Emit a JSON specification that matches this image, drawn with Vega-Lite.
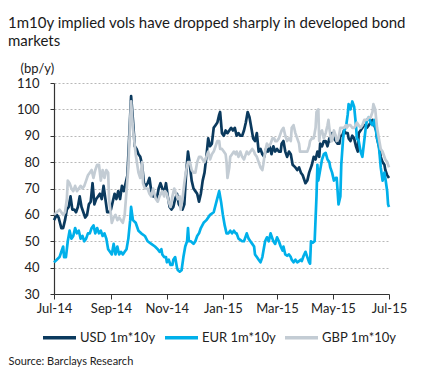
{
"$schema": "https://vega.github.io/schema/vega-lite/v6.json",
"width": 335,
"height": 211,
"autosize": {"type": "none"},
"padding": {"left": 54, "top": 83, "right": 50, "bottom": 82},
"background": "white",
"config": {"view": {"stroke": null}, "font": "Lato"},
"title": {"text": ["1m10y implied vols have dropped sharply in developed bond", "markets"], "anchor": "start", "frame": "group", "dx": -46, "offset": 13, "font": "Lato", "fontSize": 15, "fontWeight": "normal", "color": "#1a1a1a", "lineHeight": 18},
"data": {"values": [
{"date":"2014-07-01","cur":"USD","vol":58},{"date":"2014-07-04","cur":"USD","vol":60},{"date":"2014-07-06","cur":"USD","vol":59},{"date":"2014-07-09","cur":"USD","vol":55},{"date":"2014-07-11","cur":"USD","vol":55},{"date":"2014-07-13","cur":"USD","vol":58},{"date":"2014-07-15","cur":"USD","vol":62},{"date":"2014-07-17","cur":"USD","vol":63},{"date":"2014-07-19","cur":"USD","vol":67},{"date":"2014-07-21","cur":"USD","vol":62},{"date":"2014-07-23","cur":"USD","vol":62},{"date":"2014-07-25","cur":"USD","vol":61},{"date":"2014-07-27","cur":"USD","vol":63},{"date":"2014-07-29","cur":"USD","vol":67},{"date":"2014-07-31","cur":"USD","vol":63},{"date":"2014-08-02","cur":"USD","vol":61},{"date":"2014-08-04","cur":"USD","vol":59},{"date":"2014-08-06","cur":"USD","vol":60},{"date":"2014-08-08","cur":"USD","vol":64},{"date":"2014-08-10","cur":"USD","vol":65},{"date":"2014-08-12","cur":"USD","vol":72},{"date":"2014-08-14","cur":"USD","vol":64},{"date":"2014-08-16","cur":"USD","vol":66},{"date":"2014-08-18","cur":"USD","vol":67},{"date":"2014-08-20","cur":"USD","vol":68},{"date":"2014-08-22","cur":"USD","vol":66},{"date":"2014-08-24","cur":"USD","vol":71},{"date":"2014-08-26","cur":"USD","vol":66},{"date":"2014-08-28","cur":"USD","vol":61},{"date":"2014-08-30","cur":"USD","vol":61},{"date":"2014-09-01","cur":"USD","vol":62},{"date":"2014-09-03","cur":"USD","vol":65},{"date":"2014-09-05","cur":"USD","vol":68},{"date":"2014-09-07","cur":"USD","vol":66},{"date":"2014-09-09","cur":"USD","vol":69},{"date":"2014-09-11","cur":"USD","vol":66},{"date":"2014-09-13","cur":"USD","vol":71},{"date":"2014-09-15","cur":"USD","vol":69},{"date":"2014-09-17","cur":"USD","vol":72},{"date":"2014-09-19","cur":"USD","vol":75},{"date":"2014-09-21","cur":"USD","vol":90},{"date":"2014-09-23","cur":"USD","vol":105},{"date":"2014-09-25","cur":"USD","vol":96},{"date":"2014-09-27","cur":"USD","vol":86},{"date":"2014-09-29","cur":"USD","vol":85},{"date":"2014-10-01","cur":"USD","vol":83},{"date":"2014-10-03","cur":"USD","vol":82},{"date":"2014-10-05","cur":"USD","vol":79},{"date":"2014-10-07","cur":"USD","vol":72},{"date":"2014-10-09","cur":"USD","vol":71},{"date":"2014-10-11","cur":"USD","vol":72},{"date":"2014-10-13","cur":"USD","vol":74},{"date":"2014-10-15","cur":"USD","vol":69},{"date":"2014-10-17","cur":"USD","vol":67},{"date":"2014-10-19","cur":"USD","vol":67},{"date":"2014-10-21","cur":"USD","vol":66},{"date":"2014-10-23","cur":"USD","vol":70},{"date":"2014-10-25","cur":"USD","vol":72},{"date":"2014-10-27","cur":"USD","vol":70},{"date":"2014-10-29","cur":"USD","vol":68},{"date":"2014-10-31","cur":"USD","vol":72},{"date":"2014-11-02","cur":"USD","vol":67},{"date":"2014-11-04","cur":"USD","vol":63},{"date":"2014-11-06","cur":"USD","vol":62},{"date":"2014-11-08","cur":"USD","vol":63},{"date":"2014-11-10","cur":"USD","vol":66},{"date":"2014-11-12","cur":"USD","vol":68},{"date":"2014-11-14","cur":"USD","vol":64},{"date":"2014-11-16","cur":"USD","vol":63},{"date":"2014-11-18","cur":"USD","vol":62},{"date":"2014-11-20","cur":"USD","vol":64},{"date":"2014-11-22","cur":"USD","vol":76},{"date":"2014-11-24","cur":"USD","vol":84},{"date":"2014-11-26","cur":"USD","vol":79},{"date":"2014-11-28","cur":"USD","vol":73},{"date":"2014-11-30","cur":"USD","vol":70},{"date":"2014-12-02","cur":"USD","vol":69},{"date":"2014-12-04","cur":"USD","vol":68},{"date":"2014-12-06","cur":"USD","vol":65},{"date":"2014-12-08","cur":"USD","vol":68},{"date":"2014-12-10","cur":"USD","vol":73},{"date":"2014-12-12","cur":"USD","vol":76},{"date":"2014-12-14","cur":"USD","vol":82},{"date":"2014-12-16","cur":"USD","vol":89},{"date":"2014-12-18","cur":"USD","vol":86},{"date":"2014-12-20","cur":"USD","vol":87},{"date":"2014-12-22","cur":"USD","vol":93},{"date":"2014-12-24","cur":"USD","vol":94},{"date":"2014-12-26","cur":"USD","vol":95},{"date":"2014-12-28","cur":"USD","vol":98},{"date":"2014-12-29","cur":"USD","vol":99},{"date":"2014-12-31","cur":"USD","vol":91},{"date":"2015-01-02","cur":"USD","vol":90},{"date":"2015-01-04","cur":"USD","vol":92},{"date":"2015-01-06","cur":"USD","vol":91},{"date":"2015-01-08","cur":"USD","vol":92},{"date":"2015-01-10","cur":"USD","vol":93},{"date":"2015-01-12","cur":"USD","vol":92},{"date":"2015-01-14","cur":"USD","vol":93},{"date":"2015-01-16","cur":"USD","vol":90},{"date":"2015-01-18","cur":"USD","vol":91},{"date":"2015-01-20","cur":"USD","vol":90},{"date":"2015-01-22","cur":"USD","vol":90},{"date":"2015-01-24","cur":"USD","vol":92},{"date":"2015-01-26","cur":"USD","vol":95},{"date":"2015-01-28","cur":"USD","vol":99},{"date":"2015-01-30","cur":"USD","vol":97},{"date":"2015-02-01","cur":"USD","vol":93},{"date":"2015-02-03","cur":"USD","vol":89},{"date":"2015-02-05","cur":"USD","vol":88},{"date":"2015-02-07","cur":"USD","vol":91},{"date":"2015-02-09","cur":"USD","vol":84},{"date":"2015-02-11","cur":"USD","vol":85},{"date":"2015-02-13","cur":"USD","vol":83},{"date":"2015-02-15","cur":"USD","vol":82},{"date":"2015-02-17","cur":"USD","vol":85},{"date":"2015-02-19","cur":"USD","vol":84},{"date":"2015-02-21","cur":"USD","vol":86},{"date":"2015-02-23","cur":"USD","vol":83},{"date":"2015-02-25","cur":"USD","vol":86},{"date":"2015-02-27","cur":"USD","vol":84},{"date":"2015-03-01","cur":"USD","vol":85},{"date":"2015-03-03","cur":"USD","vol":84},{"date":"2015-03-05","cur":"USD","vol":84},{"date":"2015-03-06","cur":"USD","vol":87},{"date":"2015-03-08","cur":"USD","vol":88},{"date":"2015-03-10","cur":"USD","vol":84},{"date":"2015-03-12","cur":"USD","vol":82},{"date":"2015-03-14","cur":"USD","vol":84},{"date":"2015-03-16","cur":"USD","vol":83},{"date":"2015-03-18","cur":"USD","vol":79},{"date":"2015-03-21","cur":"USD","vol":78},{"date":"2015-03-23","cur":"USD","vol":77},{"date":"2015-03-25","cur":"USD","vol":78},{"date":"2015-03-27","cur":"USD","vol":76},{"date":"2015-03-29","cur":"USD","vol":75},{"date":"2015-03-30","cur":"USD","vol":74},{"date":"2015-04-01","cur":"USD","vol":72},{"date":"2015-04-03","cur":"USD","vol":73},{"date":"2015-04-05","cur":"USD","vol":76},{"date":"2015-04-07","cur":"USD","vol":78},{"date":"2015-04-08","cur":"USD","vol":79},{"date":"2015-04-10","cur":"USD","vol":82},{"date":"2015-04-12","cur":"USD","vol":81},{"date":"2015-04-14","cur":"USD","vol":84},{"date":"2015-04-16","cur":"USD","vol":82},{"date":"2015-04-17","cur":"USD","vol":87},{"date":"2015-04-19","cur":"USD","vol":86},{"date":"2015-04-21","cur":"USD","vol":88},{"date":"2015-04-23","cur":"USD","vol":88},{"date":"2015-04-25","cur":"USD","vol":86},{"date":"2015-04-27","cur":"USD","vol":89},{"date":"2015-04-28","cur":"USD","vol":88},{"date":"2015-04-30","cur":"USD","vol":91},{"date":"2015-05-02","cur":"USD","vol":89},{"date":"2015-05-04","cur":"USD","vol":88},{"date":"2015-05-06","cur":"USD","vol":87},{"date":"2015-05-08","cur":"USD","vol":87},{"date":"2015-05-09","cur":"USD","vol":90},{"date":"2015-05-11","cur":"USD","vol":90},{"date":"2015-05-13","cur":"USD","vol":92},{"date":"2015-05-15","cur":"USD","vol":91},{"date":"2015-05-17","cur":"USD","vol":91},{"date":"2015-05-18","cur":"USD","vol":89},{"date":"2015-05-20","cur":"USD","vol":88},{"date":"2015-05-22","cur":"USD","vol":90},{"date":"2015-05-24","cur":"USD","vol":89},{"date":"2015-05-26","cur":"USD","vol":86},{"date":"2015-05-28","cur":"USD","vol":84},{"date":"2015-05-29","cur":"USD","vol":91},{"date":"2015-05-31","cur":"USD","vol":92},{"date":"2015-06-02","cur":"USD","vol":93},{"date":"2015-06-04","cur":"USD","vol":94},{"date":"2015-06-06","cur":"USD","vol":94},{"date":"2015-06-07","cur":"USD","vol":93},{"date":"2015-06-09","cur":"USD","vol":94},{"date":"2015-06-11","cur":"USD","vol":95},{"date":"2015-06-13","cur":"USD","vol":96},{"date":"2015-06-15","cur":"USD","vol":94},{"date":"2015-06-17","cur":"USD","vol":92},{"date":"2015-06-18","cur":"USD","vol":89},{"date":"2015-06-20","cur":"USD","vol":86},{"date":"2015-06-22","cur":"USD","vol":82},{"date":"2015-06-24","cur":"USD","vol":80},{"date":"2015-06-26","cur":"USD","vol":79},{"date":"2015-06-27","cur":"USD","vol":77},{"date":"2015-06-29","cur":"USD","vol":75},{"date":"2015-07-01","cur":"USD","vol":74},
{"date":"2014-07-01","cur":"EUR","vol":42},{"date":"2014-07-04","cur":"EUR","vol":43},{"date":"2014-07-07","cur":"EUR","vol":44},{"date":"2014-07-09","cur":"EUR","vol":46},{"date":"2014-07-11","cur":"EUR","vol":48},{"date":"2014-07-12","cur":"EUR","vol":44},{"date":"2014-07-14","cur":"EUR","vol":44},{"date":"2014-07-16","cur":"EUR","vol":50},{"date":"2014-07-18","cur":"EUR","vol":54},{"date":"2014-07-20","cur":"EUR","vol":51},{"date":"2014-07-22","cur":"EUR","vol":52},{"date":"2014-07-24","cur":"EUR","vol":55},{"date":"2014-07-26","cur":"EUR","vol":53},{"date":"2014-07-28","cur":"EUR","vol":54},{"date":"2014-07-30","cur":"EUR","vol":51},{"date":"2014-08-01","cur":"EUR","vol":52},{"date":"2014-08-03","cur":"EUR","vol":50},{"date":"2014-08-05","cur":"EUR","vol":51},{"date":"2014-08-07","cur":"EUR","vol":53},{"date":"2014-08-09","cur":"EUR","vol":53},{"date":"2014-08-11","cur":"EUR","vol":55},{"date":"2014-08-13","cur":"EUR","vol":56},{"date":"2014-08-15","cur":"EUR","vol":53},{"date":"2014-08-17","cur":"EUR","vol":55},{"date":"2014-08-19","cur":"EUR","vol":53},{"date":"2014-08-21","cur":"EUR","vol":54},{"date":"2014-08-23","cur":"EUR","vol":52},{"date":"2014-08-25","cur":"EUR","vol":53},{"date":"2014-08-27","cur":"EUR","vol":51},{"date":"2014-08-29","cur":"EUR","vol":47},{"date":"2014-08-31","cur":"EUR","vol":46},{"date":"2014-09-02","cur":"EUR","vol":45},{"date":"2014-09-04","cur":"EUR","vol":49},{"date":"2014-09-06","cur":"EUR","vol":45},{"date":"2014-09-08","cur":"EUR","vol":48},{"date":"2014-09-10","cur":"EUR","vol":45},{"date":"2014-09-12","cur":"EUR","vol":46},{"date":"2014-09-14","cur":"EUR","vol":45},{"date":"2014-09-16","cur":"EUR","vol":46},{"date":"2014-09-18","cur":"EUR","vol":47},{"date":"2014-09-20","cur":"EUR","vol":51},{"date":"2014-09-22","cur":"EUR","vol":58},{"date":"2014-09-23","cur":"EUR","vol":63},{"date":"2014-09-25","cur":"EUR","vol":58},{"date":"2014-09-28","cur":"EUR","vol":57},{"date":"2014-10-01","cur":"EUR","vol":54},{"date":"2014-10-04","cur":"EUR","vol":53},{"date":"2014-10-08","cur":"EUR","vol":52},{"date":"2014-10-11","cur":"EUR","vol":50},{"date":"2014-10-15","cur":"EUR","vol":49},{"date":"2014-10-19","cur":"EUR","vol":48},{"date":"2014-10-22","cur":"EUR","vol":47},{"date":"2014-10-24","cur":"EUR","vol":46},{"date":"2014-10-26","cur":"EUR","vol":47},{"date":"2014-10-27","cur":"EUR","vol":45},{"date":"2014-10-29","cur":"EUR","vol":44},{"date":"2014-10-31","cur":"EUR","vol":44},{"date":"2014-11-01","cur":"EUR","vol":42},{"date":"2014-11-03","cur":"EUR","vol":43},{"date":"2014-11-05","cur":"EUR","vol":41},{"date":"2014-11-07","cur":"EUR","vol":41},{"date":"2014-11-08","cur":"EUR","vol":43},{"date":"2014-11-10","cur":"EUR","vol":44},{"date":"2014-11-12","cur":"EUR","vol":40},{"date":"2014-11-13","cur":"EUR","vol":39},{"date":"2014-11-15","cur":"EUR","vol":38.5},{"date":"2014-11-17","cur":"EUR","vol":39},{"date":"2014-11-19","cur":"EUR","vol":44},{"date":"2014-11-21","cur":"EUR","vol":48},{"date":"2014-11-23","cur":"EUR","vol":50},{"date":"2014-11-24","cur":"EUR","vol":55},{"date":"2014-11-25","cur":"EUR","vol":50},{"date":"2014-11-27","cur":"EUR","vol":50},{"date":"2014-11-30","cur":"EUR","vol":49},{"date":"2014-12-02","cur":"EUR","vol":50},{"date":"2014-12-04","cur":"EUR","vol":52},{"date":"2014-12-06","cur":"EUR","vol":53},{"date":"2014-12-08","cur":"EUR","vol":55},{"date":"2014-12-11","cur":"EUR","vol":57},{"date":"2014-12-14","cur":"EUR","vol":58},{"date":"2014-12-18","cur":"EUR","vol":60},{"date":"2014-12-22","cur":"EUR","vol":61},{"date":"2014-12-25","cur":"EUR","vol":65},{"date":"2014-12-28","cur":"EUR","vol":69},{"date":"2014-12-30","cur":"EUR","vol":65},{"date":"2015-01-01","cur":"EUR","vol":60},{"date":"2015-01-03","cur":"EUR","vol":56},{"date":"2015-01-05","cur":"EUR","vol":53},{"date":"2015-01-07","cur":"EUR","vol":53},{"date":"2015-01-09","cur":"EUR","vol":54},{"date":"2015-01-11","cur":"EUR","vol":53},{"date":"2015-01-13","cur":"EUR","vol":54},{"date":"2015-01-15","cur":"EUR","vol":53},{"date":"2015-01-16","cur":"EUR","vol":53},{"date":"2015-01-18","cur":"EUR","vol":51},{"date":"2015-01-20","cur":"EUR","vol":50.5},{"date":"2015-01-22","cur":"EUR","vol":50},{"date":"2015-01-24","cur":"EUR","vol":50},{"date":"2015-01-25","cur":"EUR","vol":51},{"date":"2015-01-27","cur":"EUR","vol":53},{"date":"2015-01-29","cur":"EUR","vol":51},{"date":"2015-01-31","cur":"EUR","vol":50},{"date":"2015-02-02","cur":"EUR","vol":49},{"date":"2015-02-04","cur":"EUR","vol":48},{"date":"2015-02-05","cur":"EUR","vol":45},{"date":"2015-02-07","cur":"EUR","vol":44},{"date":"2015-02-09","cur":"EUR","vol":43},{"date":"2015-02-11","cur":"EUR","vol":42},{"date":"2015-02-13","cur":"EUR","vol":44},{"date":"2015-02-14","cur":"EUR","vol":46},{"date":"2015-02-16","cur":"EUR","vol":50},{"date":"2015-02-18","cur":"EUR","vol":51.5},{"date":"2015-02-20","cur":"EUR","vol":50},{"date":"2015-02-22","cur":"EUR","vol":53},{"date":"2015-02-24","cur":"EUR","vol":51},{"date":"2015-02-25","cur":"EUR","vol":50},{"date":"2015-02-27","cur":"EUR","vol":49},{"date":"2015-03-01","cur":"EUR","vol":51.5},{"date":"2015-03-03","cur":"EUR","vol":50},{"date":"2015-03-05","cur":"EUR","vol":48},{"date":"2015-03-07","cur":"EUR","vol":46.5},{"date":"2015-03-08","cur":"EUR","vol":48},{"date":"2015-03-10","cur":"EUR","vol":45},{"date":"2015-03-12","cur":"EUR","vol":44.5},{"date":"2015-03-14","cur":"EUR","vol":45},{"date":"2015-03-16","cur":"EUR","vol":44},{"date":"2015-03-17","cur":"EUR","vol":43},{"date":"2015-03-19","cur":"EUR","vol":42},{"date":"2015-03-21","cur":"EUR","vol":43},{"date":"2015-03-23","cur":"EUR","vol":42},{"date":"2015-03-25","cur":"EUR","vol":42.5},{"date":"2015-03-27","cur":"EUR","vol":43},{"date":"2015-03-28","cur":"EUR","vol":42.5},{"date":"2015-03-30","cur":"EUR","vol":44.5},{"date":"2015-04-01","cur":"EUR","vol":46},{"date":"2015-04-03","cur":"EUR","vol":44},{"date":"2015-04-05","cur":"EUR","vol":42},{"date":"2015-04-06","cur":"EUR","vol":41.5},{"date":"2015-04-07","cur":"EUR","vol":50},{"date":"2015-04-09","cur":"EUR","vol":49.5},{"date":"2015-04-11","cur":"EUR","vol":50},{"date":"2015-04-13","cur":"EUR","vol":67},{"date":"2015-04-14","cur":"EUR","vol":79},{"date":"2015-04-15","cur":"EUR","vol":73},{"date":"2015-04-17","cur":"EUR","vol":77},{"date":"2015-04-19","cur":"EUR","vol":81},{"date":"2015-04-21","cur":"EUR","vol":83},{"date":"2015-04-23","cur":"EUR","vol":83.5},{"date":"2015-04-25","cur":"EUR","vol":81},{"date":"2015-04-27","cur":"EUR","vol":80},{"date":"2015-04-28","cur":"EUR","vol":78},{"date":"2015-04-30","cur":"EUR","vol":76},{"date":"2015-05-02","cur":"EUR","vol":73},{"date":"2015-05-04","cur":"EUR","vol":74},{"date":"2015-05-05","cur":"EUR","vol":74},{"date":"2015-05-07","cur":"EUR","vol":64},{"date":"2015-05-09","cur":"EUR","vol":67},{"date":"2015-05-10","cur":"EUR","vol":79},{"date":"2015-05-12","cur":"EUR","vol":89},{"date":"2015-05-13","cur":"EUR","vol":92},{"date":"2015-05-15","cur":"EUR","vol":93},{"date":"2015-05-17","cur":"EUR","vol":98},{"date":"2015-05-18","cur":"EUR","vol":102},{"date":"2015-05-20","cur":"EUR","vol":100},{"date":"2015-05-22","cur":"EUR","vol":103},{"date":"2015-05-24","cur":"EUR","vol":101},{"date":"2015-05-26","cur":"EUR","vol":94},{"date":"2015-05-27","cur":"EUR","vol":89},{"date":"2015-05-29","cur":"EUR","vol":88},{"date":"2015-05-31","cur":"EUR","vol":84},{"date":"2015-06-02","cur":"EUR","vol":82},{"date":"2015-06-04","cur":"EUR","vol":88},{"date":"2015-06-06","cur":"EUR","vol":94},{"date":"2015-06-07","cur":"EUR","vol":96},{"date":"2015-06-09","cur":"EUR","vol":97},{"date":"2015-06-11","cur":"EUR","vol":95},{"date":"2015-06-13","cur":"EUR","vol":94},{"date":"2015-06-15","cur":"EUR","vol":96},{"date":"2015-06-16","cur":"EUR","vol":94},{"date":"2015-06-18","cur":"EUR","vol":89},{"date":"2015-06-20","cur":"EUR","vol":86},{"date":"2015-06-22","cur":"EUR","vol":78},{"date":"2015-06-24","cur":"EUR","vol":73},{"date":"2015-06-26","cur":"EUR","vol":76},{"date":"2015-06-27","cur":"EUR","vol":74},{"date":"2015-06-29","cur":"EUR","vol":69},{"date":"2015-06-30","cur":"EUR","vol":64},{"date":"2015-07-01","cur":"EUR","vol":63},
{"date":"2014-07-01","cur":"GBP","vol":60},{"date":"2014-07-04","cur":"GBP","vol":61},{"date":"2014-07-07","cur":"GBP","vol":62},{"date":"2014-07-09","cur":"GBP","vol":61},{"date":"2014-07-11","cur":"GBP","vol":60},{"date":"2014-07-13","cur":"GBP","vol":61},{"date":"2014-07-15","cur":"GBP","vol":66},{"date":"2014-07-16","cur":"GBP","vol":73},{"date":"2014-07-18","cur":"GBP","vol":72},{"date":"2014-07-20","cur":"GBP","vol":70},{"date":"2014-07-22","cur":"GBP","vol":69},{"date":"2014-07-24","cur":"GBP","vol":71},{"date":"2014-07-26","cur":"GBP","vol":69},{"date":"2014-07-28","cur":"GBP","vol":70},{"date":"2014-07-30","cur":"GBP","vol":71},{"date":"2014-08-01","cur":"GBP","vol":70},{"date":"2014-08-03","cur":"GBP","vol":71},{"date":"2014-08-05","cur":"GBP","vol":73},{"date":"2014-08-07","cur":"GBP","vol":75},{"date":"2014-08-09","cur":"GBP","vol":76},{"date":"2014-08-11","cur":"GBP","vol":77},{"date":"2014-08-13","cur":"GBP","vol":74},{"date":"2014-08-15","cur":"GBP","vol":77},{"date":"2014-08-17","cur":"GBP","vol":79},{"date":"2014-08-19","cur":"GBP","vol":79},{"date":"2014-08-21","cur":"GBP","vol":73},{"date":"2014-08-23","cur":"GBP","vol":77},{"date":"2014-08-25","cur":"GBP","vol":74},{"date":"2014-08-27","cur":"GBP","vol":77},{"date":"2014-08-29","cur":"GBP","vol":76},{"date":"2014-08-30","cur":"GBP","vol":66},{"date":"2014-09-01","cur":"GBP","vol":60},{"date":"2014-09-02","cur":"GBP","vol":57},{"date":"2014-09-04","cur":"GBP","vol":59},{"date":"2014-09-06","cur":"GBP","vol":60},{"date":"2014-09-08","cur":"GBP","vol":58},{"date":"2014-09-10","cur":"GBP","vol":59},{"date":"2014-09-12","cur":"GBP","vol":58},{"date":"2014-09-14","cur":"GBP","vol":57},{"date":"2014-09-16","cur":"GBP","vol":60},{"date":"2014-09-18","cur":"GBP","vol":69},{"date":"2014-09-20","cur":"GBP","vol":78},{"date":"2014-09-22","cur":"GBP","vol":96},{"date":"2014-09-23","cur":"GBP","vol":103},{"date":"2014-09-25","cur":"GBP","vol":93},{"date":"2014-09-28","cur":"GBP","vol":83},{"date":"2014-10-01","cur":"GBP","vol":76},{"date":"2014-10-03","cur":"GBP","vol":74},{"date":"2014-10-05","cur":"GBP","vol":80},{"date":"2014-10-06","cur":"GBP","vol":72},{"date":"2014-10-08","cur":"GBP","vol":70},{"date":"2014-10-11","cur":"GBP","vol":70},{"date":"2014-10-13","cur":"GBP","vol":68},{"date":"2014-10-15","cur":"GBP","vol":67},{"date":"2014-10-17","cur":"GBP","vol":70},{"date":"2014-10-20","cur":"GBP","vol":66},{"date":"2014-10-22","cur":"GBP","vol":65},{"date":"2014-10-24","cur":"GBP","vol":67},{"date":"2014-10-27","cur":"GBP","vol":69},{"date":"2014-10-29","cur":"GBP","vol":67},{"date":"2014-10-30","cur":"GBP","vol":69},{"date":"2014-11-01","cur":"GBP","vol":68},{"date":"2014-11-03","cur":"GBP","vol":65},{"date":"2014-11-05","cur":"GBP","vol":63},{"date":"2014-11-07","cur":"GBP","vol":67},{"date":"2014-11-09","cur":"GBP","vol":70},{"date":"2014-11-11","cur":"GBP","vol":68},{"date":"2014-11-13","cur":"GBP","vol":66},{"date":"2014-11-15","cur":"GBP","vol":67},{"date":"2014-11-16","cur":"GBP","vol":62},{"date":"2014-11-18","cur":"GBP","vol":66},{"date":"2014-11-20","cur":"GBP","vol":72},{"date":"2014-11-22","cur":"GBP","vol":77},{"date":"2014-11-24","cur":"GBP","vol":80},{"date":"2014-11-26","cur":"GBP","vol":80},{"date":"2014-11-28","cur":"GBP","vol":77},{"date":"2014-11-30","cur":"GBP","vol":76},{"date":"2014-12-02","cur":"GBP","vol":76},{"date":"2014-12-04","cur":"GBP","vol":80},{"date":"2014-12-06","cur":"GBP","vol":82},{"date":"2014-12-08","cur":"GBP","vol":82},{"date":"2014-12-10","cur":"GBP","vol":81},{"date":"2014-12-12","cur":"GBP","vol":80},{"date":"2014-12-14","cur":"GBP","vol":82},{"date":"2014-12-16","cur":"GBP","vol":84},{"date":"2014-12-18","cur":"GBP","vol":81},{"date":"2014-12-20","cur":"GBP","vol":83},{"date":"2014-12-22","cur":"GBP","vol":84},{"date":"2014-12-24","cur":"GBP","vol":86},{"date":"2014-12-26","cur":"GBP","vol":88},{"date":"2014-12-28","cur":"GBP","vol":88},{"date":"2014-12-29","cur":"GBP","vol":85},{"date":"2014-12-31","cur":"GBP","vol":85},{"date":"2015-01-02","cur":"GBP","vol":84},{"date":"2015-01-04","cur":"GBP","vol":83},{"date":"2015-01-05","cur":"GBP","vol":80},{"date":"2015-01-06","cur":"GBP","vol":74},{"date":"2015-01-08","cur":"GBP","vol":78},{"date":"2015-01-09","cur":"GBP","vol":82},{"date":"2015-01-11","cur":"GBP","vol":83},{"date":"2015-01-13","cur":"GBP","vol":84},{"date":"2015-01-15","cur":"GBP","vol":83},{"date":"2015-01-16","cur":"GBP","vol":84},{"date":"2015-01-18","cur":"GBP","vol":82},{"date":"2015-01-20","cur":"GBP","vol":84},{"date":"2015-01-22","cur":"GBP","vol":82},{"date":"2015-01-24","cur":"GBP","vol":81},{"date":"2015-01-25","cur":"GBP","vol":82},{"date":"2015-01-27","cur":"GBP","vol":84},{"date":"2015-01-29","cur":"GBP","vol":83},{"date":"2015-01-31","cur":"GBP","vol":84},{"date":"2015-02-02","cur":"GBP","vol":85},{"date":"2015-02-04","cur":"GBP","vol":84},{"date":"2015-02-05","cur":"GBP","vol":83},{"date":"2015-02-07","cur":"GBP","vol":82},{"date":"2015-02-09","cur":"GBP","vol":80},{"date":"2015-02-11","cur":"GBP","vol":78},{"date":"2015-02-13","cur":"GBP","vol":77},{"date":"2015-02-14","cur":"GBP","vol":79},{"date":"2015-02-16","cur":"GBP","vol":84},{"date":"2015-02-18","cur":"GBP","vol":87},{"date":"2015-02-20","cur":"GBP","vol":86},{"date":"2015-02-22","cur":"GBP","vol":87},{"date":"2015-02-24","cur":"GBP","vol":89},{"date":"2015-02-26","cur":"GBP","vol":89},{"date":"2015-02-27","cur":"GBP","vol":88},{"date":"2015-03-01","cur":"GBP","vol":88},{"date":"2015-03-03","cur":"GBP","vol":89},{"date":"2015-03-05","cur":"GBP","vol":91},{"date":"2015-03-06","cur":"GBP","vol":92},{"date":"2015-03-08","cur":"GBP","vol":93},{"date":"2015-03-10","cur":"GBP","vol":90},{"date":"2015-03-12","cur":"GBP","vol":88},{"date":"2015-03-14","cur":"GBP","vol":89},{"date":"2015-03-16","cur":"GBP","vol":88},{"date":"2015-03-17","cur":"GBP","vol":93},{"date":"2015-03-19","cur":"GBP","vol":94},{"date":"2015-03-21","cur":"GBP","vol":91},{"date":"2015-03-23","cur":"GBP","vol":89},{"date":"2015-03-25","cur":"GBP","vol":87},{"date":"2015-03-26","cur":"GBP","vol":84},{"date":"2015-03-28","cur":"GBP","vol":84},{"date":"2015-03-30","cur":"GBP","vol":84},{"date":"2015-04-01","cur":"GBP","vol":84},{"date":"2015-04-03","cur":"GBP","vol":84},{"date":"2015-04-05","cur":"GBP","vol":86},{"date":"2015-04-06","cur":"GBP","vol":88},{"date":"2015-04-08","cur":"GBP","vol":89},{"date":"2015-04-10","cur":"GBP","vol":89},{"date":"2015-04-12","cur":"GBP","vol":93},{"date":"2015-04-13","cur":"GBP","vol":99},{"date":"2015-04-15","cur":"GBP","vol":100},{"date":"2015-04-16","cur":"GBP","vol":88},{"date":"2015-04-17","cur":"GBP","vol":91},{"date":"2015-04-19","cur":"GBP","vol":92},{"date":"2015-04-21","cur":"GBP","vol":89},{"date":"2015-04-23","cur":"GBP","vol":91},{"date":"2015-04-25","cur":"GBP","vol":94},{"date":"2015-04-26","cur":"GBP","vol":96},{"date":"2015-04-27","cur":"GBP","vol":93},{"date":"2015-04-29","cur":"GBP","vol":88},{"date":"2015-04-30","cur":"GBP","vol":88},{"date":"2015-05-02","cur":"GBP","vol":92},{"date":"2015-05-04","cur":"GBP","vol":90},{"date":"2015-05-05","cur":"GBP","vol":88},{"date":"2015-05-07","cur":"GBP","vol":89},{"date":"2015-05-09","cur":"GBP","vol":93},{"date":"2015-05-11","cur":"GBP","vol":93},{"date":"2015-05-13","cur":"GBP","vol":93},{"date":"2015-05-15","cur":"GBP","vol":94},{"date":"2015-05-16","cur":"GBP","vol":93},{"date":"2015-05-18","cur":"GBP","vol":94},{"date":"2015-05-20","cur":"GBP","vol":94},{"date":"2015-05-22","cur":"GBP","vol":93},{"date":"2015-05-24","cur":"GBP","vol":93},{"date":"2015-05-26","cur":"GBP","vol":94},{"date":"2015-05-27","cur":"GBP","vol":95},{"date":"2015-05-29","cur":"GBP","vol":94},{"date":"2015-05-31","cur":"GBP","vol":93},{"date":"2015-06-02","cur":"GBP","vol":94},{"date":"2015-06-04","cur":"GBP","vol":96},{"date":"2015-06-05","cur":"GBP","vol":96},{"date":"2015-06-07","cur":"GBP","vol":96},{"date":"2015-06-09","cur":"GBP","vol":97},{"date":"2015-06-11","cur":"GBP","vol":97},{"date":"2015-06-13","cur":"GBP","vol":99},{"date":"2015-06-14","cur":"GBP","vol":102},{"date":"2015-06-16","cur":"GBP","vol":100},{"date":"2015-06-18","cur":"GBP","vol":93},{"date":"2015-06-20","cur":"GBP","vol":89},{"date":"2015-06-22","cur":"GBP","vol":85},{"date":"2015-06-24","cur":"GBP","vol":84},{"date":"2015-06-25","cur":"GBP","vol":83},{"date":"2015-06-27","cur":"GBP","vol":81},{"date":"2015-06-29","cur":"GBP","vol":80},{"date":"2015-07-01","cur":"GBP","vol":78}
]},
"mark": {"type": "line", "strokeWidth": 2.7, "strokeJoin": "round"},
"encoding": {
  "x": {"field": "date", "type": "temporal",
    "scale": {"type": "utc", "domain": [{"year": 2014, "month": 7, "date": 1, "utc": true}, {"year": 2015, "month": 7, "date": 1, "utc": true}]},
    "axis": {"values": [{"year": 2014, "month": 7, "date": 1, "utc": true}, {"year": 2014, "month": 9, "date": 1, "utc": true}, {"year": 2014, "month": 11, "date": 1, "utc": true}, {"year": 2015, "month": 1, "date": 1, "utc": true}, {"year": 2015, "month": 3, "date": 1, "utc": true}, {"year": 2015, "month": 5, "date": 1, "utc": true}, {"year": 2015, "month": 7, "date": 1, "utc": true}],
      "labelExpr": "utcFormat(datum.value, '%b-%y')", "grid": false, "domainColor": "#333333", "domainWidth": 1.2, "tickColor": "#333333", "tickSize": 5, "labelPadding": 3, "labelFont": "Lato", "labelFontSize": 13, "labelColor": "#222222", "labelFlush": false, "labelOverlap": false,
      "title": "Source: Barclays Research", "titleX": -46, "titleY": 70, "titleAlign": "left", "titleAnchor": "start", "titleBaseline": "alphabetic", "titleFont": "Lato", "titleFontSize": 11, "titleFontWeight": "normal", "titleColor": "#222222"}},
  "y": {"field": "vol", "type": "quantitative",
    "scale": {"domain": [30, 110], "nice": false, "zero": false},
    "axis": {"values": [30, 40, 50, 60, 70, 80, 90, 100, 110], "grid": true, "gridColor": "#b8b8b8", "gridDash": [2, 2], "gridWidth": 1, "domainColor": "#333333", "domainWidth": 1.2, "tickColor": "#333333", "tickSize": 4, "labelPadding": 11, "labelFont": "Lato", "labelFontSize": 13, "labelColor": "#222222",
      "title": "(bp/y)", "titleAngle": 0, "titleX": -34, "titleY": -11, "titleAlign": "left", "titleBaseline": "alphabetic", "titleFont": "Lato", "titleFontSize": 13, "titleFontWeight": "normal", "titleColor": "#222222"}},
  "color": {"field": "cur", "type": "nominal",
    "scale": {"domain": ["USD", "EUR", "GBP"], "range": ["#0b3a5e", "#00b0ea", "#c3ccd4"]},
    "legend": {"orient": "none", "legendX": -13, "legendY": 236, "direction": "horizontal", "title": null, "symbolType": "stroke", "symbolSize": 1089, "symbolStrokeWidth": 3.5, "labelFont": "Lato", "labelFontSize": 13, "labelColor": "#222222", "labelOffset": 2, "columnPadding": 2, "labelExpr": "datum.label + ' 1m*10y'"}}
}
}
